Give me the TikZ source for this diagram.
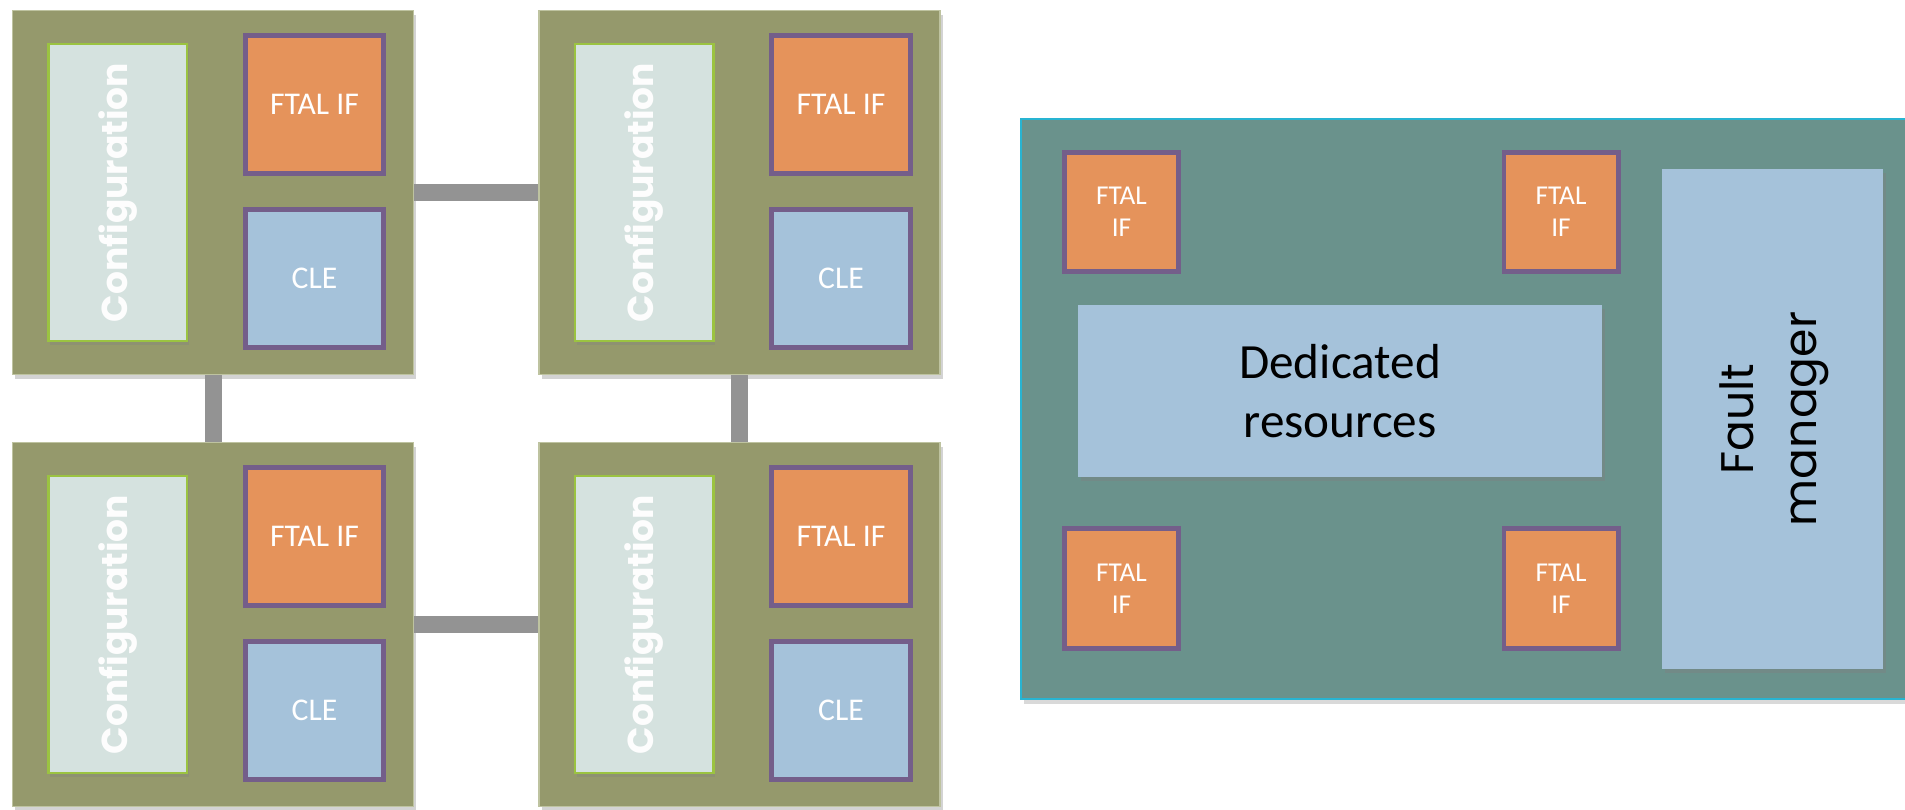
\documentclass[tikz,border=0pt]{standalone}
\usepackage{fontspec}
\setmainfont{Carlito}
\newfontfamily\geofont{Poppins}
\usetikzlibrary{shadows}

\definecolor{tileolive}{RGB}{149,153,108}
\definecolor{tileline}{RGB}{190,195,160}
\definecolor{cfgfill}{RGB}{213,226,223}
\definecolor{cfgline}{RGB}{155,195,65}
\definecolor{ftalfill}{RGB}{229,147,91}
\definecolor{ftalline}{RGB}{116,94,138}
\definecolor{clefill}{RGB}{165,194,218}
\definecolor{linkgray}{RGB}{147,147,147}
\definecolor{panelteal}{RGB}{106,146,140}
\definecolor{panelline}{RGB}{40,180,210}

\tikzset{
  tile/.style={draw=tileline, line width=0.8pt, fill=tileolive,
    minimum width=8.02cm, minimum height=7.28cm,
    drop shadow={shadow xshift=1.5pt, shadow yshift=-2.5pt, opacity=0.35}},
  cfgbox/.style={draw=cfgline, line width=1.3pt, fill=cfgfill,
    minimum width=2.77cm, minimum height=5.94cm, text=white!95!cfgfill,
    font=\geofont\bfseries\fontsize{20.5}{24}\selectfont,
    drop shadow={shadow xshift=1pt, shadow yshift=-2.5pt, opacity=0.3}},
  ftalbox/.style={draw=ftalline, line width=2.6pt, fill=ftalfill,
    minimum width=2.77cm, minimum height=2.77cm, text=white,
    font=\fontsize{18}{21}\selectfont},
  clebox/.style={ftalbox, fill=clefill},
  smallftal/.style={ftalbox, minimum width=2.29cm, minimum height=2.39cm,
    align=center, font=\fontsize{15.5}{18.5}\selectfont},
  resbox/.style={fill=clefill, align=center, text=black,
    drop shadow={shadow xshift=1.5pt, shadow yshift=-2.5pt, opacity=0.4}},
  link/.style={draw=linkgray, line width=0.34cm}
}

\begin{document}
\begin{tikzpicture}[x=0.02cm, y=-0.02cm]
  \path[use as bounding box, clip] (0,0) rectangle (1905,809);

  % 瓦片
  \foreach \n/\cx/\cy in {a/213/192.5, b/739.5/192.5, c/213/624.5, d/739.5/624.5} {
    \node[tile] (tile\n) at (\cx,\cy) {};
    \node[cfgbox] (cfg\n) at (\cx-95.25,\cy) {\rotatebox{90}{Configuration}};
    \node[ftalbox] (ftal\n) at (\cx+101.5,\cy-88) {FTAL IF};
    \node[clebox] (cle\n) at (\cx+101.5,\cy+86) {CLE};
  }

  % 连线
  \draw[link] (tilea) -- (tileb);
  \draw[link] (tilec) -- (tiled);
  \draw[link] (tilea) -- (tilec);
  \draw[link] (tileb) -- (tiled);

  % 右侧面板
  \node[draw=panelline, line width=1.5pt, fill=panelteal,
    minimum width=18.18cm, minimum height=11.6cm,
    drop shadow={shadow xshift=1.5pt, shadow yshift=-3pt, opacity=0.3}]
    (panel) at (1475.5,409) {};

  % 接口
  \node[smallftal] (ftalnw) at (1121.5,212) {FTAL\\IF};
  \node[smallftal] (ftalne) at (1561,212) {FTAL\\IF};
  \node[smallftal] (ftalsw) at (1121.5,588.5) {FTAL\\IF};
  \node[smallftal] (ftalse) at (1561,588.5) {FTAL\\IF};

  % 资源
  \node[resbox, minimum width=10.48cm, minimum height=3.44cm,
    font=\fontsize{28}{33.5}\selectfont] (res) at (1340,391)
    {Dedicated\\resources};
  \node[resbox, minimum width=4.42cm, minimum height=10cm,
    font=\geofont\fontsize{26}{36}\selectfont] (fault) at (1772.5,419)
    {\rotatebox{90}{\begin{tabular}{@{}c@{}}Fault\\manager\end{tabular}}};
\end{tikzpicture}
\end{document}
